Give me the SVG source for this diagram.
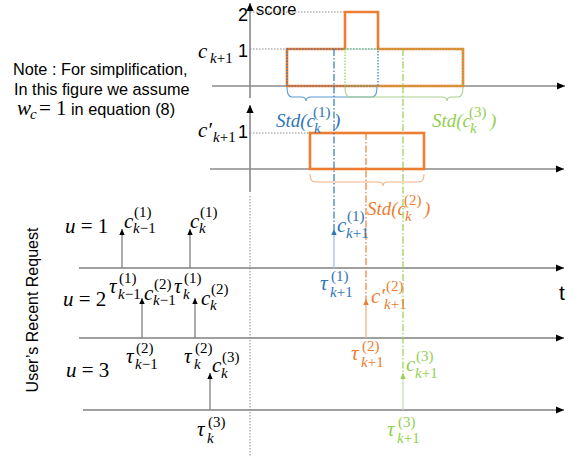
<svg xmlns="http://www.w3.org/2000/svg" width="579" height="456" viewBox="0 0 579 456">
<defs>
<marker id="ak" viewBox="0 0 10 10" refX="10" refY="5" markerWidth="9" markerHeight="8" markerUnits="userSpaceOnUse" orient="auto"><path d="M0,0.5 L10,5 L0,9.5 z" fill="#000"/></marker>
<marker id="as" viewBox="0 0 10 10" refX="10" refY="5" markerWidth="7" markerHeight="6" markerUnits="userSpaceOnUse" orient="auto"><path d="M0,0.5 L10,5 L0,9.5 z" fill="#000"/></marker>
<marker id="ab" viewBox="0 0 10 10" refX="10" refY="5" markerWidth="7" markerHeight="6" markerUnits="userSpaceOnUse" orient="auto"><path d="M0,0.5 L10,5 L0,9.5 z" fill="#2E75B6"/></marker>
<marker id="ao" viewBox="0 0 10 10" refX="10" refY="5" markerWidth="7" markerHeight="6" markerUnits="userSpaceOnUse" orient="auto"><path d="M0,0.5 L10,5 L0,9.5 z" fill="#ED7D31"/></marker>
<marker id="ag" viewBox="0 0 10 10" refX="10" refY="5" markerWidth="7" markerHeight="6" markerUnits="userSpaceOnUse" orient="auto"><path d="M0,0.5 L10,5 L0,9.5 z" fill="#92D050"/></marker>
</defs>
<style>
.ax{stroke:#8a8a8a;stroke-width:1.4;fill:none}
.gl{stroke:#808080;stroke-width:1.3;fill:none}
.dot{stroke:#808080;stroke-width:0.9;stroke-dasharray:1.5,1.5;fill:none}
.dd{stroke-width:1.2;stroke-dasharray:7,2,1.5,2;fill:none}
.or{stroke:#ED7D31;stroke-width:2.6;fill:none}
.mi{font-family:"Liberation Serif","DejaVu Serif",serif;font-style:italic;font-size:21px}
.mn{font-family:"Liberation Serif","DejaVu Serif",serif;font-size:21px}
.sc{font-family:"Liberation Serif","DejaVu Serif",serif;font-size:15px}
.st{font-family:"Liberation Serif","DejaVu Serif",serif;font-style:italic;font-size:19px}
.sa{font-family:"Liberation Sans",Arial,sans-serif}
.b{fill:#2E75B6}.o{fill:#ED7D31}.g{fill:#92D050}
</style>

<g id="note" class="sa" font-size="16.3" fill="#000">
<text x="13" y="75">Note : For simplification,</text>
<text x="14" y="95">In this figure we assume</text>
<text x="17" y="115" class="mi">w</text>
<text x="30" y="119" class="sc" font-style="italic" font-size="13">c</text>
<text x="39" y="115" class="mn">= 1</text>
<text x="71" y="115">in equation (8)</text>
</g>

<g id="ylabel">
<text class="sa" font-size="16" text-anchor="middle" transform="translate(38,310) rotate(-90)">User’s Recent Request</text>
</g>

<g id="score-chart">
<line class="ax" x1="250" y1="98" x2="250" y2="3" marker-end="url(#ak)" style="stroke:#777"/>
<line class="ax" x1="212" y1="86" x2="565" y2="86" marker-end="url(#ak)"/>
<text x="256" y="15" class="sa" font-size="16.5">score</text>
<text x="238" y="21" class="sa" font-size="18">2</text>
<text x="238" y="57" class="sa" font-size="18">1</text>
<line class="dot" x1="250" y1="12" x2="345" y2="12"/>
<line class="dot" x1="250" y1="49" x2="287" y2="49"/>
<text x="198" y="58" class="mi">c</text>
<text x="210" y="63" class="sc"><tspan font-style="italic">k</tspan>+1</text>
<path class="or" d="M287,86 V49 H345 V12 H378 V49 H463 V86 Z"/>
<rect x="287" y="49" width="91" height="37" fill="none" stroke="#2E75B6" stroke-width="1.2" stroke-dasharray="1.5,1.5"/>
<rect x="345" y="49" width="118" height="37" fill="none" stroke="#92D050" stroke-width="1.2" stroke-dasharray="1.5,1.5"/>
</g>

<g id="cprime-chart">
<line class="ax" x1="250" y1="192" x2="250" y2="105" marker-end="url(#ak)" style="stroke:#777"/>
<line class="ax" x1="210" y1="169" x2="564" y2="169" marker-end="url(#ak)"/>
<text x="238" y="138" class="sa" font-size="18">1</text>
<line class="dot" x1="250" y1="133" x2="310" y2="133"/>
<text x="198" y="137" class="mi">c′</text>
<text x="213" y="142" class="sc"><tspan font-style="italic">k</tspan>+1</text>
<rect class="or" x="310" y="133" width="114" height="36"/>
</g>

<g id="braces" fill="none" stroke-width="1.1">
<path stroke="#5B9BD5" d="M287,87 q0,10 5,10 H301 q5,0 5,4 q0,-4 5,-4 H372 q5,0 5,-10"/>
<path stroke="#A9D18E" d="M345,87 q0,10 5,10 H442 q5,0 5,4 q0,-4 5,-4 H458 q5,0 5,-10"/>
<path stroke="#F4B183" d="M310,174 q0,8 5,8 H378 q5,0 5,4 q0,-4 5,-4 H419 q5,0 5,-8"/>
</g>

<g id="std-labels">
<g class="b"><text x="276" y="127" class="st">Std(c</text><text x="313" y="117" class="sc">(1)</text><text x="314" y="133" class="sc" font-style="italic">k</text><text x="334" y="127" class="st">)</text></g>
<g class="g"><text x="432" y="127" class="st">Std(c</text><text x="469" y="117" class="sc">(3)</text><text x="470" y="133" class="sc" font-style="italic">k</text><text x="490" y="127" class="st">)</text></g>
<g class="o"><text x="367" y="215" class="st">Std(c</text><text x="404" y="205" class="sc">(2)</text><text x="405" y="221" class="sc" font-style="italic">k</text><text x="424" y="215" class="st">)</text></g>
</g>

<g id="timelines">
<line class="gl" x1="79" y1="268" x2="564" y2="268" marker-end="url(#ak)"/>
<line class="gl" x1="79" y1="338" x2="564" y2="338" marker-end="url(#ak)"/>
<line class="gl" x1="83" y1="410" x2="564" y2="410" marker-end="url(#ak)"/>
<line class="dot" x1="250" y1="196" x2="250" y2="456"/>
<text x="559" y="300" class="sa" font-size="21">t</text>
</g>

<g id="connectors">
<line class="gl" x1="122" y1="268" x2="122" y2="229" marker-end="url(#as)"/>
<line class="gl" x1="190" y1="268" x2="190" y2="229" marker-end="url(#as)"/>
<line class="gl" x1="142" y1="338" x2="142" y2="298" marker-end="url(#as)"/>
<line class="gl" x1="195" y1="338" x2="195" y2="298" marker-end="url(#as)"/>
<line class="gl" x1="210" y1="410" x2="210" y2="373" marker-end="url(#as)"/>
<line class="dd" stroke="#2E75B6" x1="334" y1="49" x2="334" y2="230"/>
<line stroke="#9DC3E6" stroke-width="1.3" x1="334" y1="268" x2="334" y2="229" marker-end="url(#ab)"/>
<line class="dd" stroke="#ED7D31" x1="366" y1="133" x2="366" y2="300"/>
<line stroke="#F4B183" stroke-width="1.3" x1="366" y1="338" x2="366" y2="299" marker-end="url(#ao)"/>
<line class="dd" stroke="#92D050" x1="403" y1="49" x2="403" y2="374"/>
<line stroke="#C5E0B4" stroke-width="1.3" x1="403" y1="410" x2="403" y2="373" marker-end="url(#ag)"/>
</g>

<g id="u1">
<text x="65" y="233" class="mi">u<tspan class="mn" font-style="normal"> = 1</tspan></text>
<text x="124" y="228" class="mi">c</text><text x="134" y="217" class="sc">(1)</text><text x="133" y="233" class="sc"><tspan font-style="italic">k</tspan>−1</text>
<text x="190" y="228" class="mi">c</text><text x="200" y="217" class="sc">(1)</text><text x="199" y="233" class="sc" font-style="italic">k</text>
</g>

<g id="u2">
<text x="63" y="306" class="mi">u<tspan class="mn" font-style="normal"> = 2</tspan></text>
<text x="109" y="293" class="mi">τ</text><text x="119" y="283" class="sc">(1)</text><text x="118" y="299" class="sc"><tspan font-style="italic">k</tspan>−1</text>
<text x="144" y="300" class="mi">c</text><text x="154" y="289" class="sc">(2)</text><text x="153" y="305" class="sc"><tspan font-style="italic">k</tspan>−1</text>
<text x="174" y="293" class="mi">τ</text><text x="184" y="283" class="sc">(1)</text><text x="183" y="299" class="sc" font-style="italic">k</text>
<text x="201" y="305" class="mi">c</text><text x="211" y="294" class="sc">(2)</text><text x="210" y="310" class="sc" font-style="italic">k</text>
</g>

<g id="u3">
<text x="66" y="377" class="mi">u<tspan class="mn" font-style="normal"> = 3</tspan></text>
<text x="126" y="363" class="mi">τ</text><text x="136" y="353" class="sc">(2)</text><text x="135" y="369" class="sc"><tspan font-style="italic">k</tspan>−1</text>
<text x="184" y="363" class="mi">τ</text><text x="195" y="353" class="sc">(2)</text><text x="194" y="369" class="sc" font-style="italic">k</text>
<text x="212" y="372" class="mi">c</text><text x="222" y="362" class="sc">(3)</text><text x="221" y="378" class="sc" font-style="italic">k</text>
<text x="197" y="436" class="mi">τ</text><text x="208" y="427" class="sc">(3)</text><text x="207" y="443" class="sc" font-style="italic">k</text>
</g>

<g id="next-requests">
<g class="b">
<text x="337" y="232" class="mi">c</text><text x="347" y="221" class="sc">(1)</text><text x="346" y="238" class="sc"><tspan font-style="italic">k</tspan>+1</text>
<text x="320" y="290" class="mi">τ</text><text x="331" y="281" class="sc">(1)</text><text x="330" y="297" class="sc"><tspan font-style="italic">k</tspan>+1</text>
</g>
<g class="o">
<text x="371" y="303" class="mi">c′</text><text x="386" y="291" class="sc">(2)</text><text x="384" y="309" class="sc"><tspan font-style="italic">k</tspan>+1</text>
<text x="351" y="360" class="mi">τ</text><text x="362" y="351" class="sc">(2)</text><text x="361" y="367" class="sc"><tspan font-style="italic">k</tspan>+1</text>
</g>
<g class="g">
<text x="406" y="371" class="mi">c</text><text x="416" y="361" class="sc">(3)</text><text x="415" y="378" class="sc"><tspan font-style="italic">k</tspan>+1</text>
<text x="387" y="436" class="mi">τ</text><text x="398" y="427" class="sc">(3)</text><text x="397" y="443" class="sc"><tspan font-style="italic">k</tspan>+1</text>
</g>
</g>
</svg>
